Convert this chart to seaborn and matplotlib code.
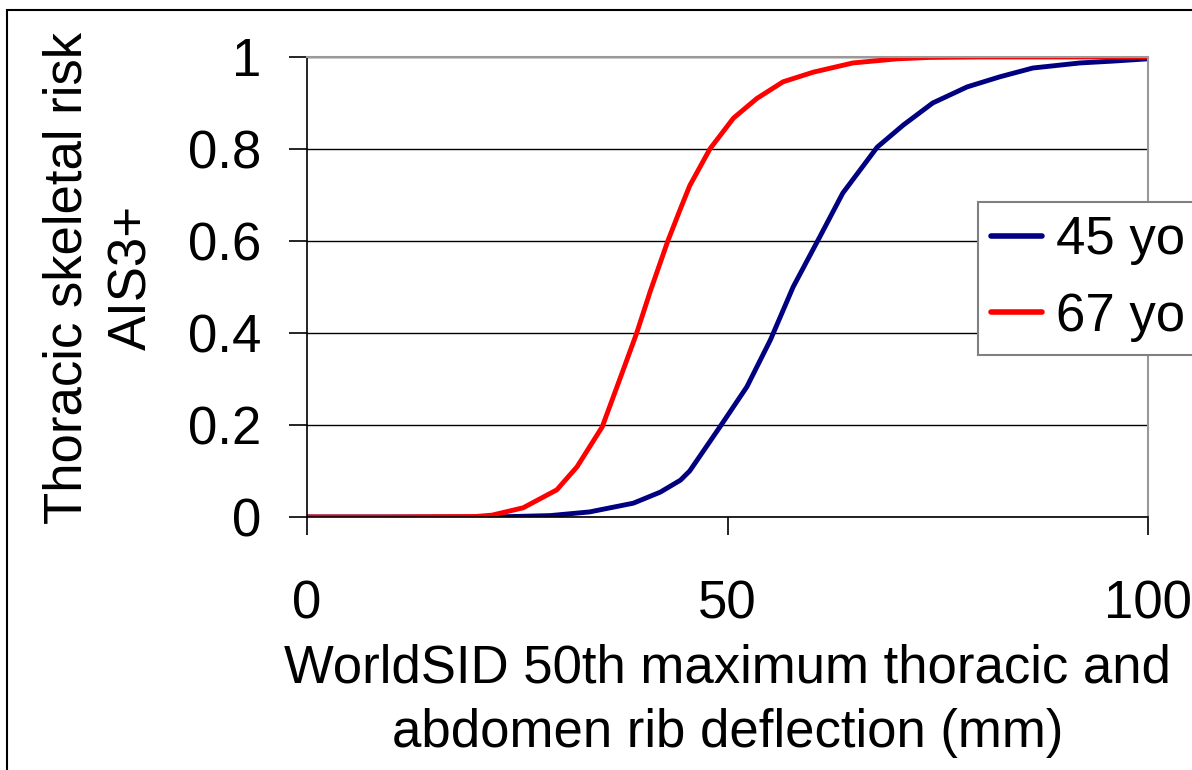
import matplotlib
matplotlib.use('Agg')
import matplotlib.pyplot as plt
import matplotlib.patches as patches
import pandas as pd
import seaborn as sns

# values
x_45 = [0, 10, 20, 23.3, 28.9, 33.6, 38.8, 42, 44.4, 45.5, 49.1, 52.3, 55.1, 57.8,
        61, 63.7, 67.8, 70.9, 74.4, 78.5, 82.4, 86.3, 91.9, 95.8, 100]
y_45 = [0, 0, 0, 0.0005, 0.003, 0.011, 0.03, 0.054, 0.08, 0.10, 0.196, 0.283, 0.385, 0.50,
        0.61, 0.704, 0.804, 0.852, 0.90, 0.935, 0.957, 0.976, 0.987, 0.991, 0.996]

x_67 = [0, 10, 20, 22, 25.7, 29.7, 32.1, 35.1, 37.6, 39.2, 40.8, 42.9, 44.4, 45.5, 47.9,
        50.7, 53.5, 56.6, 60.2, 64.9, 70.2, 74, 80, 90, 100]
y_67 = [0, 0, 0.001, 0.004, 0.02, 0.059, 0.109, 0.196, 0.32, 0.40, 0.49, 0.60, 0.67, 0.72, 0.80,
        0.867, 0.91, 0.946, 0.967, 0.987, 0.996, 0.999, 1.0, 1.0, 1.0]

series_names = ['45 yo', '67 yo']
series_colors = ['#000080', '#FF0000']
x_ticks = [0, 50, 100]
y_ticks = [0, 0.2, 0.4, 0.6, 0.8, 1]
y_tick_labels = ['0', '0.2', '0.4', '0.6', '0.8', '1']

df = pd.concat([
    pd.DataFrame({'x': x_45, 'y': y_45, 'age': series_names[0]}),
    pd.DataFrame({'x': x_67, 'y': y_67, 'age': series_names[1]}),
])

sns.set_style('white')
plt.rcParams['font.family'] = ['Liberation Sans', 'DejaVu Sans']
plt.rcParams['text.color'] = 'black'
plt.rcParams['axes.labelcolor'] = 'black'
plt.rcParams['xtick.color'] = 'black'
plt.rcParams['ytick.color'] = 'black'

fig = plt.figure(figsize=(11.92, 7.7), dpi=100)
ax = fig.add_axes([0.2576, 0.3286, 0.7055, 0.5974])

sns.lineplot(data=df, x='x', y='y', hue='age', palette=series_colors,
             estimator=None, sort=False, ax=ax, legend=False)
for line in ax.lines:
    line.set_linewidth(3.5)
    line.set_solid_capstyle('round')
    line.set_solid_joinstyle('round')

ax.set_xlim(0, 100)
ax.set_ylim(0, 1)
ax.set_xticks(x_ticks)
ax.set_yticks(y_ticks)
ax.set_yticklabels(y_tick_labels)
ax.yaxis.grid(True, color='black', linewidth=1.0)
ax.set_axisbelow(True)

for side in ['top', 'right']:
    ax.spines[side].set_color('#999999')
    ax.spines[side].set_linewidth(1.5)
for side in ['left', 'bottom']:
    ax.spines[side].set_color('black')
    ax.spines[side].set_linewidth(1.2)

ax.tick_params(axis='both', direction='out', length=13, width=1.2, color='black',
               labelsize=38, labelcolor='black', left=True, bottom=True)
ax.tick_params(axis='x', pad=32)
ax.tick_params(axis='y', pad=20)

ax.set_xlabel('WorldSID 50th maximum thoracic and\nabdomen rib deflection (mm)',
              fontsize=38, linespacing=1.38)
ax.xaxis.set_label_coords(0.5, -0.275)
ax.xaxis.label.set_va('top')
ax.set_ylabel('Thoracic skeletal risk\nAIS3+', fontsize=38, linespacing=1.38)
ax.yaxis.set_label_coords(-0.178, 0.52)

handles = [plt.Line2D([], [], color=c, linewidth=4, solid_capstyle='round') for c in series_colors]
leg = ax.legend(handles, series_names, loc='upper left',
                bbox_to_anchor=(978 / 1192, 1 - 202 / 770), bbox_transform=fig.transFigure,
                fontsize=38, frameon=True, fancybox=False, framealpha=1,
                edgecolor='#808080', handlelength=0.97, handletextpad=0.25,
                borderpad=0.25, labelspacing=0.5, borderaxespad=0)
leg.get_frame().set_linewidth(1.5)

# outer chart border, right and bottom edges fall outside the picture
fig.patches.append(patches.Rectangle((7 / 1192, -0.2), 1.3, 1.2 - 10 / 770,
                                     transform=fig.transFigure, fill=False,
                                     edgecolor='black', linewidth=1.5))

plt.savefig('out.png', dpi=100)
plt.close()
